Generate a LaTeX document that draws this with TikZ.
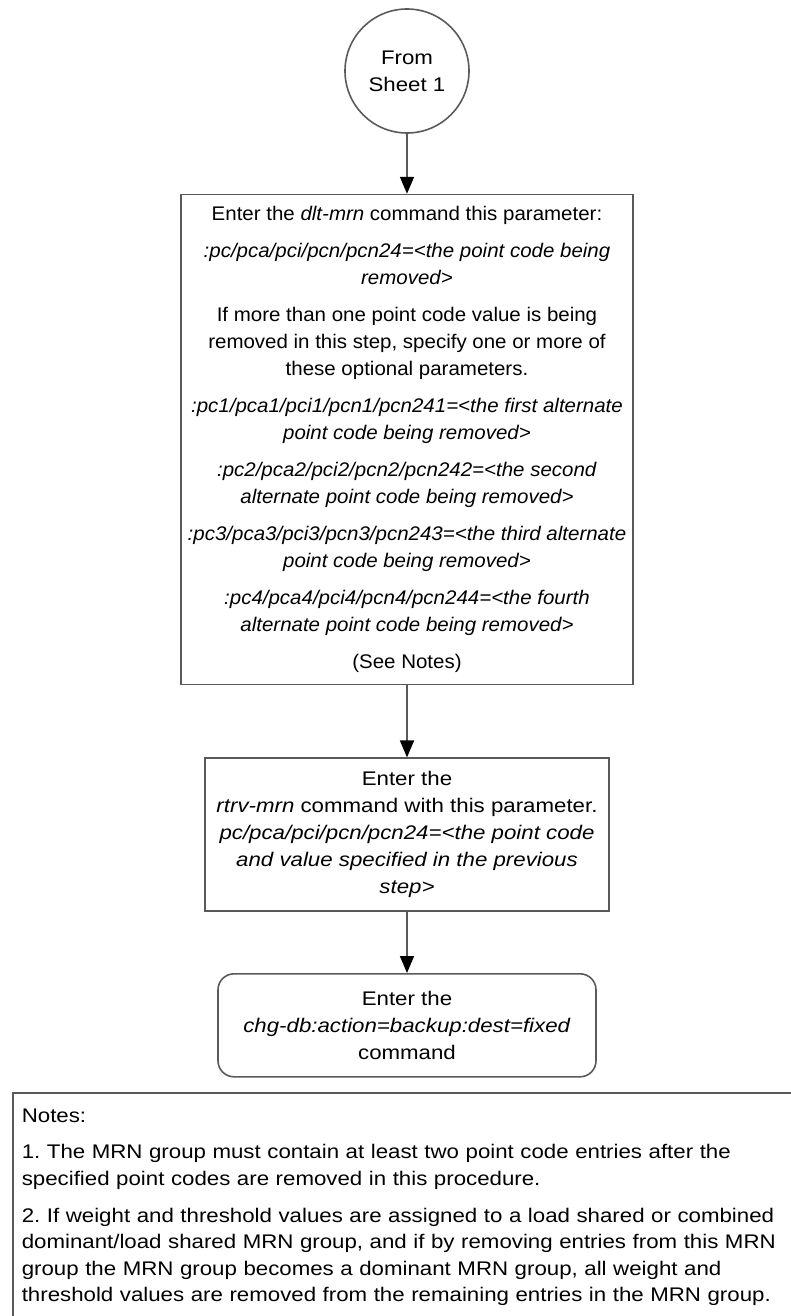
\documentclass[tikz,border=0pt]{standalone}
\usepackage{fontspec}
\setmainfont{Liberation Sans}[FakeStretch=1.13]
\newfontfamily\dltfont{Liberation Sans}[FakeStretch=1.04]
\usetikzlibrary{arrows.meta,positioning}
\definecolor{flgrey}{HTML}{5A5A5A}
\newcommand{\cmd}[1]{\textit{#1}}

\begin{document}
\begin{tikzpicture}[x=1pt, y=1pt, font=\fontsize{19.7}{27}\selectfont\frenchspacing,
  proc/.style={draw=flgrey, line width=1.6pt, align=center, inner sep=0pt},
  conn/.style={proc, circle, minimum size=124pt},
  term/.style={proc, rounded corners=16pt},
  note/.style={draw=flgrey, line width=1.6pt, align=left, anchor=north west,
    inner xsep=9pt, inner ysep=16pt, text width=770pt},
  ar/.style={-{Triangle[length=17pt,width=14pt,color=black]}, line width=1.6pt, draw=flgrey}]
  \useasboundingbox (0,0) rectangle (791,-1316);
  \clip (0,0) rectangle (791,-1316);
  \node[conn] (from) at (407,-71) {From\\Sheet 1};
  \node[proc, below=60pt of from, minimum width=452pt, minimum height=490pt,
    font=\dltfont\fontsize{19.7}{27}\selectfont] (dlt)
    {Enter the \cmd{dlt-mrn} command this parameter:\\[10pt]
     \cmd{:pc/pca/pci/pcn/pcn24=<the point code being}\\
     \cmd{removed>}\\[10pt]
     If more than one point code value is being\\
     removed in this step, specify one or more of\\
     these optional parameters.\\[10pt]
     \cmd{:pc1/pca1/pci1/pcn1/pcn241=<the first alternate}\\
     \cmd{point code being removed>}\\[10pt]
     \cmd{:pc2/pca2/pci2/pcn2/pcn242=<the second}\\
     \cmd{alternate point code being removed>}\\[10pt]
     \cmd{:pc3/pca3/pci3/pcn3/pcn243=<the third alternate}\\
     \cmd{point code being removed>}\\[10pt]
     \cmd{:pc4/pca4/pci4/pcn4/pcn244=<the fourth}\\
     \cmd{alternate point code being removed>}\\[10pt]
     (See Notes)};
  \node[proc, below=72pt of dlt, minimum width=404pt, minimum height=153pt] (rtrv)
    {Enter the\\
     \cmd{rtrv-mrn} command with this parameter.\\
     \cmd{pc/pca/pci/pcn/pcn24=<the point code}\\
     \cmd{and value specified in the previous}\\
     \cmd{step>}};
  \node[term, below=61pt of rtrv, minimum width=378pt, minimum height=103pt] (chgdb)
    {Enter the\\ \cmd{chg-db:action=backup:dest=fixed}\\ command};
  \foreach \a/\b in {from/dlt,dlt/rtrv,rtrv/chgdb} \draw[ar] (\a)--(\b);
  \node[note, font=\fontsize{19.7}{26.6}\selectfont\frenchspacing] (notes) at (12,-1092)
    {Notes:\\[10pt]
     1. The MRN group must contain at least two point code entries after the\\
     specified point codes are removed in this procedure.\\[10pt]
     2. If weight and threshold values are assigned to a load shared or combined\\
     dominant/load shared MRN group, and if by removing entries from this MRN\\
     group the MRN group becomes a dominant MRN group, all weight and\\
     threshold values are removed from the remaining entries in the MRN group.\rule[-30pt]{0pt}{30pt}};
\end{tikzpicture}
\end{document}
